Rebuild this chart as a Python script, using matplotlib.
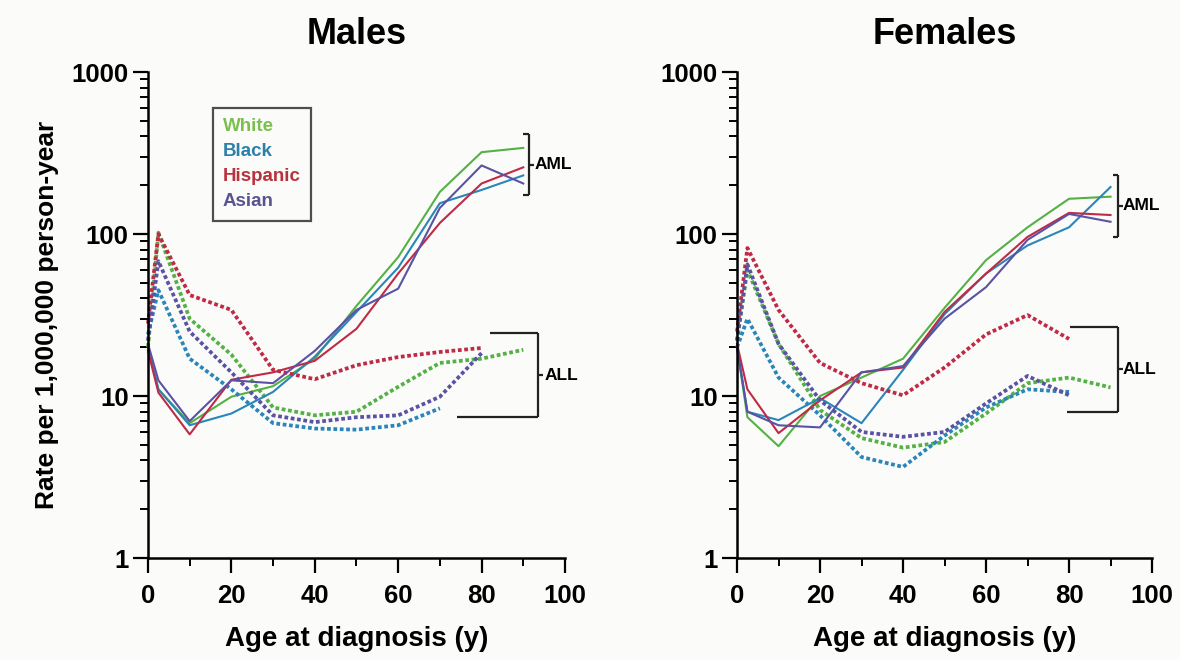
import numpy as np
import matplotlib
matplotlib.use("Agg")
import matplotlib.pyplot as plt
from matplotlib.ticker import LogLocator, NullFormatter, FixedLocator

plt.rcParams['font.family'] = ['Liberation Sans', 'DejaVu Sans']
plt.rcParams['font.weight'] = 'bold'

## ages at diagnosis (x positions of the age groups)
ages = [0, 2.5, 10, 20, 30, 40, 50, 60, 70, 80, 90]
races = ['White', 'Black', 'Hispanic', 'Asian']

## Males, AML (solid)
m_aml_white = [20, 11, 6.8, 9.9, 11.5, 17, 36, 72, 182, 320, 340]
m_aml_black = [20, 11, 6.6, 7.8, 10.6, 17.5, 33, 62, 155, 187, 230]
m_aml_hisp = [19, 10.5, 5.8, 12.6, 14, 16.5, 26, 57, 117, 205, 258]
m_aml_asian = [21, 12.5, 7, 12.5, 12, 19, 34, 46, 145, 265, 205]

## Males, ALL (dotted)
m_all_white = [20, 102, 30, 18, 8.5, 7.6, 8.0, 11.4, 16, 17, 19.3]
m_all_black = [24, 45, 17, 11, 6.8, 6.3, 6.2, 6.6, 8.4]
m_all_hisp = [28, 100, 42, 34, 14.5, 12.7, 15.5, 17.4, 18.7, 19.8]
m_all_asian = [22, 68, 25, 14, 7.6, 6.9, 7.4, 7.6, 9.9, 18.4]

## Females, AML (solid)
f_aml_white = [20, 7.4, 4.9, 10, 13, 17, 35, 69, 110, 165, 170]
f_aml_black = [20, 8, 7.1, 9.7, 6.8, 14.5, 32, 57, 85, 110, 195]
f_aml_hisp = [21, 11, 5.9, 9.4, 14, 15, 33, 57, 96, 135, 131]
f_aml_asian = [20, 8, 6.6, 6.4, 14, 15.3, 30, 47, 92, 133, 119]

## Females, ALL (dotted)
f_all_white = [22, 60, 21, 8.2, 5.5, 4.8, 5.2, 7.8, 12, 13, 11.3]
f_all_black = [20, 30, 13, 7.6, 4.2, 3.65, 5.7, 8.5, 11, 10.6]
f_all_hisp = [25, 82, 34, 16, 12, 10.1, 15, 24, 31.6, 22.5]
f_all_asian = [22, 65, 21, 9.4, 6.0, 5.6, 6.0, 9.0, 13.3, 10.1]

colors = ['#55b045', '#2a86b8', '#c02a45', '#5a52a3']
label_colors = ['#7cbf4e', '#2c80aa', '#b8323e', '#58548f']

bg = '#fbfcfa'
fig = plt.figure(figsize=(11.8, 6.6), dpi=100, facecolor=bg)
ax_m = fig.add_axes([0.1254, 0.1545, 0.3534, 0.7364], facecolor=bg)
ax_f = fig.add_axes([0.6246, 0.1545, 0.3517, 0.7364], facecolor=bg)

panels = [
    (ax_m, 'Males',
     [m_aml_white, m_aml_black, m_aml_hisp, m_aml_asian],
     [m_all_white, m_all_black, m_all_hisp, m_all_asian]),
    (ax_f, 'Females',
     [f_aml_white, f_aml_black, f_aml_hisp, f_aml_asian],
     [f_all_white, f_all_black, f_all_hisp, f_all_asian]),
]

for ax, title, aml, all_ in panels:
    for i in range(4):
        ax.plot(ages[:len(aml[i])], aml[i], color=colors[i], lw=1.5,
                label=races[i], clip_on=False)
        ax.plot(ages[:len(all_[i])], all_[i], color=colors[i], lw=2.7,
                linestyle=(0, (1.0, 0.7)), clip_on=False)
    ax.set_yscale('log')
    ax.set_xlim(0, 100)
    ax.set_ylim(1, 1000)
    ax.set_xticks([0, 20, 40, 60, 80, 100])
    ax.xaxis.set_minor_locator(FixedLocator([10, 30, 50, 70, 90]))
    ax.yaxis.set_major_locator(FixedLocator([1, 10, 100, 1000]))
    ax.set_yticklabels(['1', '10', '100', '1000'])
    ax.yaxis.set_minor_locator(LogLocator(base=10, subs=np.arange(2, 10)))
    ax.yaxis.set_minor_formatter(NullFormatter())
    for s in ['top', 'right']:
        ax.spines[s].set_visible(False)
    for s in ['left', 'bottom']:
        ax.spines[s].set_linewidth(1.8)
    ax.tick_params(which='major', direction='out', length=11, width=1.6,
                   labelsize=18.5)
    ax.tick_params(axis='x', which='major', pad=8)
    ax.tick_params(axis='y', which='major', pad=3)
    ax.tick_params(which='minor', direction='out', length=6, width=1.4)
    ax.set_xlabel('Age at diagnosis (y)', fontsize=20, fontweight='bold',
                  labelpad=13)
    ax.set_title(title, fontsize=26, fontweight='bold', pad=20)

ax_m.set_ylabel('Rate per 1,000,000 person-year', fontsize=19,
                fontweight='bold', labelpad=9)

leg = ax_m.legend(loc='upper left', bbox_to_anchor=(0.155, 0.926),
                  handlelength=0, handletextpad=0, fancybox=False,
                  frameon=True, edgecolor='#222222', facecolor=bg,
                  prop={'size': 13.5, 'weight': 'bold'}, labelspacing=0.42,
                  borderpad=0.55, borderaxespad=0)
leg.get_frame().set_linewidth(1.6)
for txt, c in zip(leg.get_texts(), label_colors):
    txt.set_color(c)
for h in leg.legend_handles:
    h.set_visible(False)


def bracket(ax, x, lo, hi, x_lo, x_hi, text, tx):
    kw = dict(color='#222222', lw=1.6, clip_on=False, solid_capstyle='butt')
    ax.plot([x, x], [lo, hi], **kw)
    ax.plot([x_hi, x], [hi, hi], **kw)
    ax.plot([x_lo, x], [lo, lo], **kw)
    mid = np.sqrt(lo * hi)
    ax.plot([x, x + 1.2], [mid, mid], **kw)
    ax.text(tx, mid, text, fontsize=12.5, fontweight='bold', va='center',
            ha='left', clip_on=False)


bracket(ax_m, 91.4, 174, 414, 90, 90, 'AML', 92.6)
bracket(ax_m, 93.5, 7.4, 24.5, 74, 82, 'ALL', 95.2)
bracket(ax_f, 91.8, 96, 231, 90.5, 90.5, 'AML', 93.0)
bracket(ax_f, 91.8, 8.0, 26.7, 79.5, 80.2, 'ALL', 93.0)

fig.savefig('out.png', dpi=100, facecolor=bg)
